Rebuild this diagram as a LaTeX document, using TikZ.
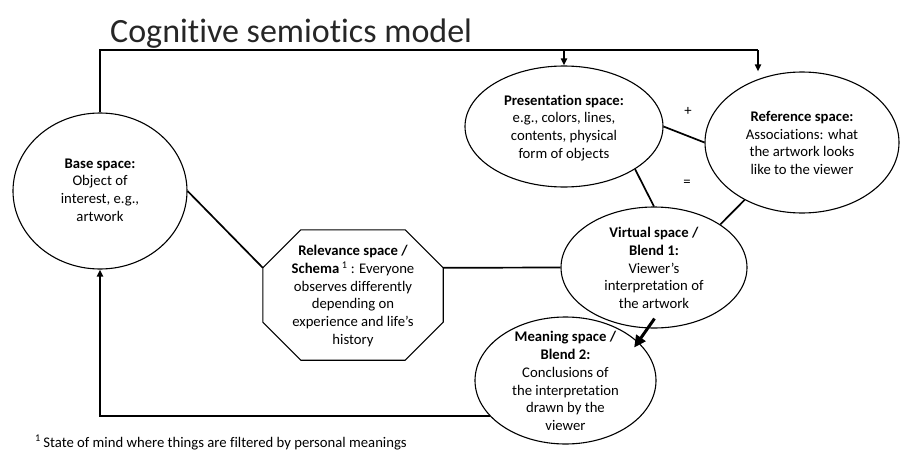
\documentclass[tikz,border=0pt]{standalone}
\usepackage{fontspec}
\setmainfont{Carlito}[Ligatures=NoCommon]
\usetikzlibrary{shapes.geometric,arrows.meta,calc}
\tikzset{
  space/.style={ellipse, draw, line width=1.1pt, inner sep=0pt},
  body/.style={align=center, inner sep=0pt, font=\fontsize{14.7}{17.8}\selectfont},
  link/.style={line width=1.7pt},
  arr/.style={link, -{Triangle[length=7pt,width=6pt]}},
  bigarr/.style={line width=3pt, -{Triangle[length=12pt,width=11pt]}},
}
\begin{document}
\begin{tikzpicture}[x=1pt, y=-1pt]
\useasboundingbox (0,0) rectangle (900,455);

% title
\node[anchor=base west, inner sep=0pt, text=black!85, font=\fontsize{34}{40}\selectfont] (title) at (110,42) {Cognitive semiotics model};

% the mental spaces
\node[space, minimum width=174pt, minimum height=156pt] (base) at (100,191) {};
\node[body] (baseTxt) at (100,190) {\textbf{Base space:}\\Object of\\interest, e.g.,\\artwork};

\node[space, minimum width=198pt, minimum height=121pt] (pres) at (564,126.5) {};
\node[body] (presTxt) at (564,128) {\textbf{Presentation space:}\\e.g., colors, lines,\\contents, physical\\form of objects};

\node[space, minimum width=194pt, minimum height=141pt] (ref) at (802,142.5) {};
\node[body] (refTxt) at (802,143) {\textbf{Reference space:}\\Associations: what\\the artwork looks\\like to the viewer};

\node[space, minimum width=186pt, minimum height=121pt] (virtual) at (654,267.5) {};
\node[body] (virtualTxt) at (654,268) {\textbf{Virtual space /}\\\textbf{Blend 1:}\\Viewer’s\\interpretation of\\the artwork};

\node[space, minimum width=181pt, minimum height=127pt] (meaning) at (565.5,380.5) {};
\node[body] (meaningTxt) at (565.5,381) {\textbf{Meaning space /}\\\textbf{Blend 2:}\\Conclusions of\\the interpretation\\drawn by the\\viewer};

% relevance space: octagon with 45 degree corners
\node[minimum width=180pt, minimum height=130pt, inner sep=0pt] (rel) at (353,295) {};
\coordinate (relUL) at ($(rel.north west)+(0,-38pt)$);
\coordinate (relR) at ($(rel.north east)+(0,-38pt)$);
\draw[line width=1.1pt] ($(rel.north west)+(38pt,0)$) -- ($(rel.north east)+(-38pt,0)$)
  -- (relR) -- ($(rel.south east)+(0,38pt)$) -- ($(rel.south east)+(-38pt,0)$)
  -- ($(rel.south west)+(38pt,0)$) -- ($(rel.south west)+(0,38pt)$) -- (relUL) -- cycle;
\node[body] (relTxt) at (353,296) {\textbf{Relevance space /}\\\textbf{Schema}\,\textsuperscript{1} : Everyone\\observes differently\\depending on\\experience and life’s\\history};

% connectors
\coordinate (busR) at (758,50);
\draw[link] (base.north) |- (busR);
\draw[arr] (busR) -- (busR |- ref.north);
\draw[arr] (pres.north |- busR) -- (pres.north);

\draw[link] (base.east) -- (relUL);
\draw[link] (relR) -- (virtual.west);
\draw[link] (pres.east) -- (ref.west);
\draw[link] (pres.-31) -- (virtual.north);
\draw[link] (ref.225) -- (virtual.33);
\draw[bigarr, shorten <=-12pt, shorten >=-7pt] (virtual.264) -- (meaning.28);
\draw[arr] (meaning.205) -| (base.south);

% operators between the spaces
\node[body] (plus) at (688,111) {+};
\node[body] (equals) at (687,183) {=};

% footnote
\node[anchor=base west, inner sep=0pt, font=\fontsize{14.7}{17.8}\selectfont] (note) at (35,447) {\textsuperscript{1}\,State of mind where things are filtered by personal meanings};
\end{tikzpicture}
\end{document}
